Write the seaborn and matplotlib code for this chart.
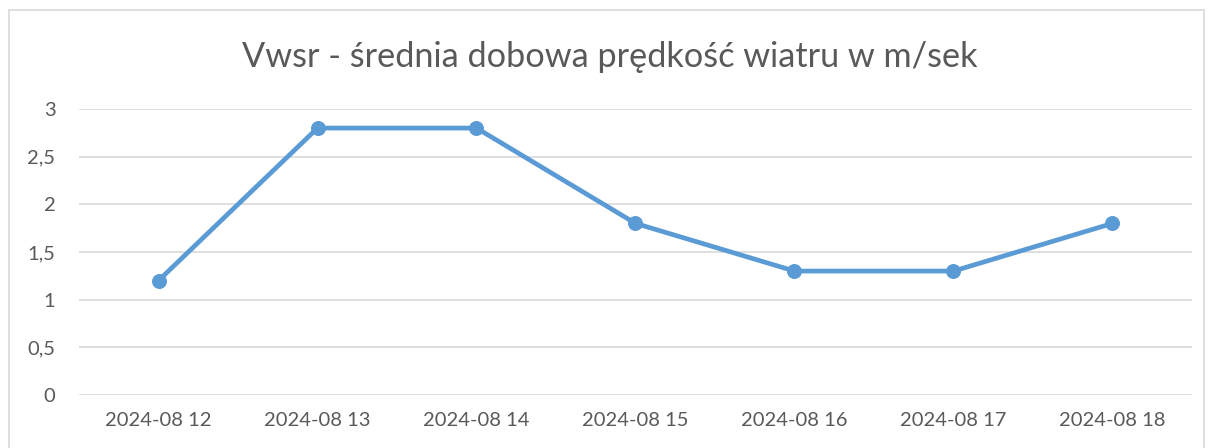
import pandas as pd
import matplotlib.pyplot as plt
import seaborn as sns
from matplotlib.patches import Rectangle
from matplotlib.ticker import FuncFormatter

# Data
dates = ["2024-08 12", "2024-08 13", "2024-08 14", "2024-08 15",
         "2024-08 16", "2024-08 17", "2024-08 18"]
wind = [1.2, 2.8, 2.8, 1.8, 1.3, 1.3, 1.8]
yticks = [0, 0.5, 1, 1.5, 2, 2.5, 3]

df = pd.DataFrame({"data": dates, "vwsr": wind})
df["pos"] = range(len(dates))

sns.set_style("white")
plt.rcParams["font.family"] = ["Lato", "DejaVu Sans"]

fig = plt.figure(figsize=(12.19, 4.48), dpi=100)
ax = fig.add_axes([79 / 1219, 53 / 448, 1113 / 1219, 286 / 448])

sns.lineplot(data=df, x="pos", y="vwsr", ax=ax, color="#5B9BD5",
             linewidth=3.4, marker="o", markersize=10,
             markeredgecolor="#5B9BD5")

ax.set_xlim(-0.5, len(dates) - 0.5)
ax.set_ylim(0, 3)
ax.set_xticks(df["pos"])
ax.set_xticklabels(dates)
ax.set_yticks(yticks)
ax.yaxis.set_major_formatter(FuncFormatter(lambda v, p: f"{v:g}".replace(".", ",")))
ax.tick_params(axis="both", length=0, labelsize=14.5, labelcolor="#595959")
ax.tick_params(axis="x", pad=12)
ax.tick_params(axis="y", pad=17)
ax.grid(axis="y", color="#D9D9D9", linewidth=1.2)
ax.set_axisbelow(True)
for s in ax.spines.values():
    s.set_visible(False)
ax.set_xlabel("")
ax.set_ylabel("")

fig.text(0.5, 1 - 57 / 448, "Vwsr - średnia dobowa prędkość wiatru w m/sek",
         ha="center", va="center", fontsize=24.7, color="#595959")

# chart border
fig.patches.append(Rectangle((9 / 1219, -0.05), 1195 / 1219, 1.05 - 10 / 448,
                             transform=fig.transFigure, fill=False,
                             edgecolor="#D9D9D9", linewidth=1.2))

fig.savefig("out.png", dpi=100)
